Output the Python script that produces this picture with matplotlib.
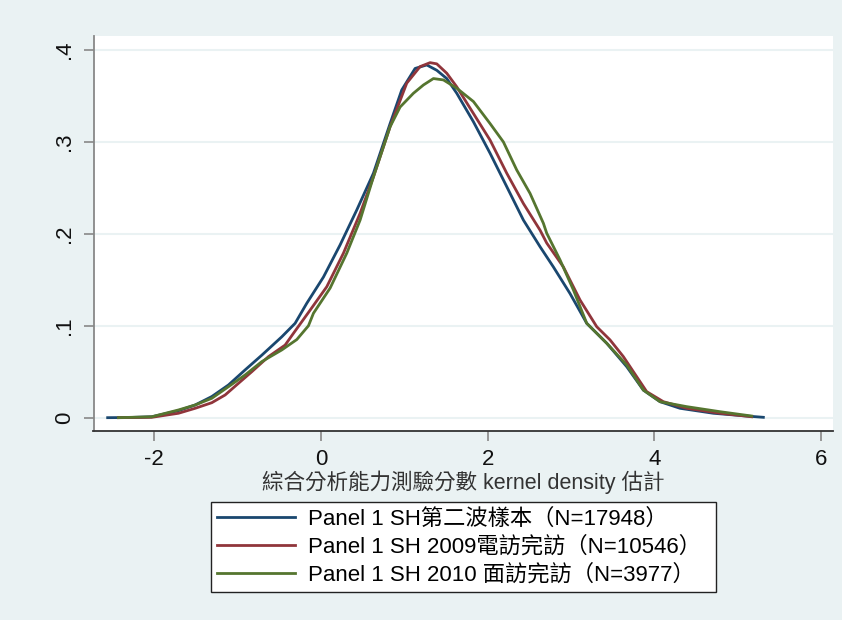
import matplotlib
matplotlib.use("Agg")
import matplotlib.pyplot as plt

plt.rcParams['font.family'] = ['Liberation Sans', 'Noto Sans CJK TC', 'DejaVu Sans']

# ---- data ----
blue_x = [-2.56, -2.3, -2.03, -1.71, -1.51, -1.31, -1.11, -0.91, -0.71, -0.47, -0.31, -0.17,
          0.03, 0.23, 0.43, 0.63, 0.83, 0.97, 1.13, 1.27, 1.39, 1.51, 1.63, 1.83, 2.03, 2.23,
          2.43, 2.63, 2.79, 2.99, 3.19, 3.43, 3.67, 3.87, 4.07, 4.31, 4.71, 5.11, 5.31]
blue_y = [0.0, 0.0002, 0.001, 0.0076, 0.0138, 0.023, 0.0356, 0.052, 0.068, 0.088, 0.1027, 0.1245,
          0.153, 0.188, 0.226, 0.266, 0.320, 0.3566, 0.380, 0.3838, 0.378, 0.369, 0.353, 0.322, 0.2877, 0.2514,
          0.215, 0.186, 0.164, 0.135, 0.1027, 0.081, 0.0555, 0.030, 0.0174, 0.0102, 0.0048, 0.0018, 0.0004]

red_x = [-2.43, -2.03, -1.71, -1.51, -1.31, -1.15, -0.99, -0.83, -0.63, -0.43, -0.33, -0.13,
         0.07, 0.27, 0.47, 0.63, 0.83, 1.03, 1.19, 1.31, 1.39, 1.51, 1.63, 1.83, 2.03, 2.23,
         2.43, 2.63, 2.71, 2.91, 3.11, 3.31, 3.47, 3.63, 3.79, 3.91, 4.11, 4.39, 4.79, 5.17]
red_y = [0.0, 0.0004, 0.0048, 0.0102, 0.0163, 0.0247, 0.0374, 0.050, 0.0664, 0.079, 0.0918, 0.117,
         0.1425, 0.179, 0.2224, 0.262, 0.3166, 0.364, 0.382, 0.3863, 0.385, 0.3748, 0.360, 0.331, 0.302, 0.266,
         0.233, 0.204, 0.190, 0.164, 0.128, 0.099, 0.0846, 0.0664, 0.0446, 0.0283, 0.0174, 0.0102, 0.0048, 0.001]

green_x = [-2.43, -2.03, -1.71, -1.51, -1.31, -1.11, -0.91, -0.71, -0.47, -0.29, -0.15, -0.09,
           0.11, 0.31, 0.47, 0.63, 0.83, 0.95, 1.11, 1.23, 1.35, 1.47, 1.63, 1.83, 2.03, 2.19,
           2.35, 2.51, 2.67, 2.71, 2.87, 3.03, 3.19, 3.43, 3.67, 3.87, 4.07, 4.39, 4.79, 5.17]
green_y = [0.0, 0.001, 0.0084, 0.0138, 0.0211, 0.0337, 0.0465, 0.061, 0.0737, 0.085, 0.100, 0.1136,
           0.141, 0.179, 0.215, 0.262, 0.3166, 0.338, 0.353, 0.362, 0.369, 0.3675, 0.3585, 0.344, 0.320, 0.300,
           0.2695, 0.244, 0.2115, 0.2007, 0.1716, 0.139, 0.1027, 0.081, 0.0573, 0.030, 0.0174, 0.012, 0.0065, 0.0018]

labels = ["Panel 1 SH第二波樣本（N=17948）",
          "Panel 1 SH 2009電訪完訪（N=10546）",
          "Panel 1 SH 2010 面訪完訪（N=3977）"]
x_ticks = [-2, 0, 2, 4, 6]
y_ticks = [0, 0.1, 0.2, 0.3, 0.4]
y_ticklabels = ["0", ".1", ".2", ".3", ".4"]
xlabel = "綜合分析能力測驗分數 kernel density 估計"

colors = ["#1A476F", "#90353B", "#55752F"]
bg = "#EAF2F3"
FS = 15.5

W, H = 842, 620
fig = plt.figure(figsize=(W / 100, H / 100), dpi=100, facecolor=bg)
ax = fig.add_axes([93.5 / W, 1 - 431 / H, (833 - 93.5) / W, (431 - 36) / H])
ax.set_facecolor("white")

for yt in y_ticks:
    ax.axhline(yt, color=bg, lw=1.5, zorder=0)

for xs, ys, c, lab in zip([blue_x, red_x, green_x], [blue_y, red_y, green_y], colors, labels):
    ax.plot(xs, ys, color=c, lw=2.0, label=lab, solid_joinstyle="round")

ax.set_xlim(-2.73, 6.146)
ax.set_ylim(-0.0145, 0.4153)
ax.set_xticks(x_ticks)
ax.set_xticklabels([str(t) for t in x_ticks])
ax.set_yticks(y_ticks)
ax.set_yticklabels(y_ticklabels, rotation=90, va="center")
ax.tick_params(axis="both", direction="out", length=7, width=1.2, color="#888888",
               labelsize=16, labelcolor="#111111", pad=6)
ax.tick_params(axis="y", pad=6)

for s in ["top", "right"]:
    ax.spines[s].set_visible(False)
ax.spines["left"].set_color("#888888")
ax.spines["left"].set_linewidth(1.3)
ax.spines["bottom"].set_color("#333333")
ax.spines["bottom"].set_linewidth(1.3)

ax.set_xlabel(xlabel, fontsize=FS, color="#333333", labelpad=0)

handles, labs = ax.get_legend_handles_labels()
leg = fig.legend(handles, labs, loc="upper left",
                 bbox_to_anchor=(211 / W, 1 - 600 / H, (716 - 211) / W, (600 - 502) / H),
                 mode="expand", fontsize=16, frameon=True, fancybox=False,
                 handlelength=3.5, handletextpad=0.6, borderpad=0.28, labelspacing=0.3,
                 borderaxespad=0)
leg.get_frame().set_edgecolor("#222222")
leg.get_frame().set_linewidth(1.0)
leg.get_frame().set_facecolor("white")
leg.get_frame().set_alpha(1)

fig.savefig("out.png", dpi=100, facecolor=bg)
